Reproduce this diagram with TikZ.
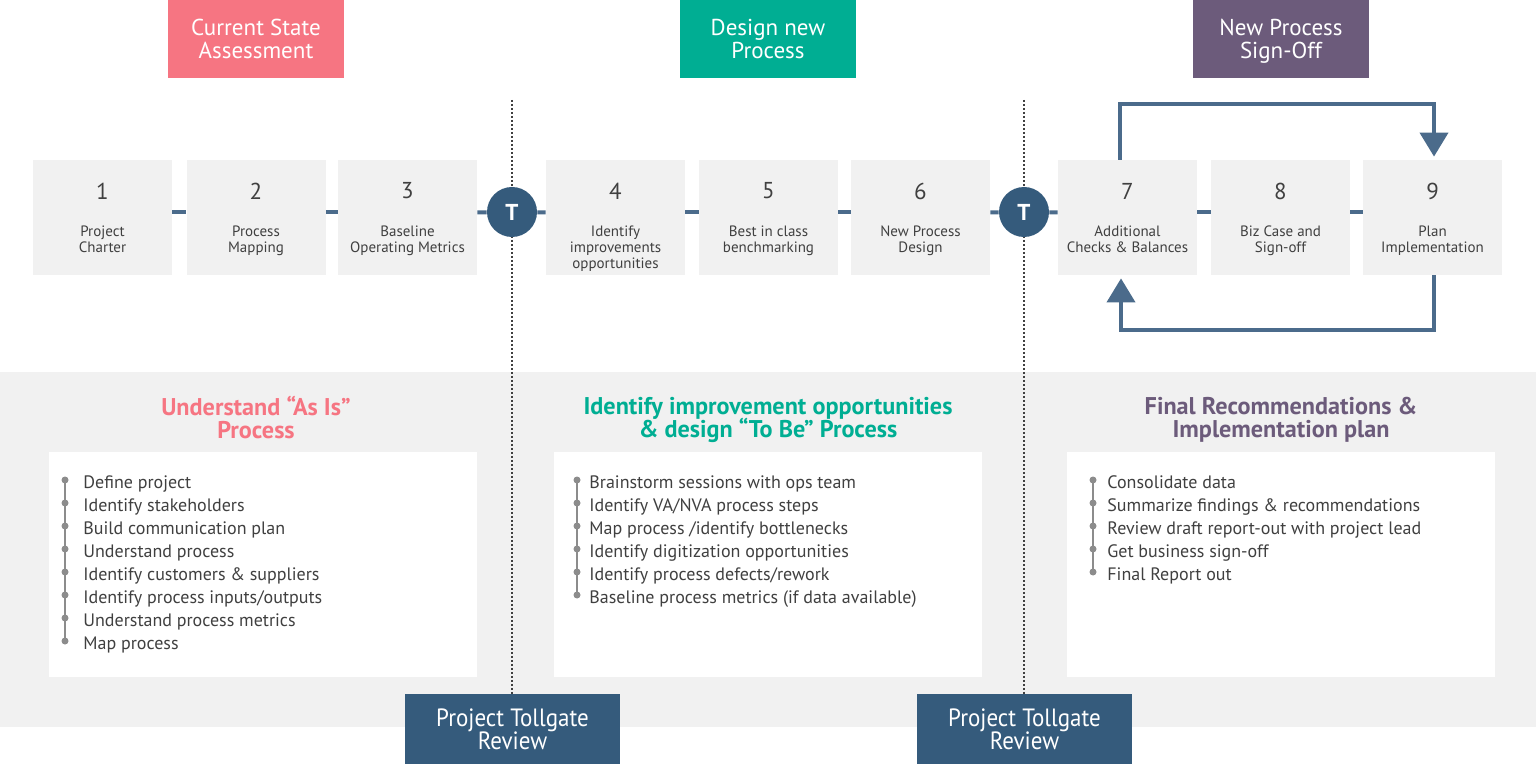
\documentclass[tikz,border=0pt]{standalone}
\usepackage{fontspec}
\setmainfont{PT Sans}
\newfontfamily\narrowfont[FakeStretch=0.92]{PT Sans}
\usetikzlibrary{positioning,arrows.meta}

\definecolor{pinkhead}{HTML}{F67582}
\definecolor{tealhead}{HTML}{00AE93}
\definecolor{purplehead}{HTML}{6C5B7B}
\definecolor{navy}{HTML}{355B7C}
\definecolor{linkblue}{HTML}{4B6B8B}
\definecolor{boxgray}{HTML}{F1F1F1}
\definecolor{dotgray}{HTML}{8C8C8C}
\definecolor{textgray}{HTML}{404040}
\newcommand\tightlines{\lineskiplimit=-5pt\relax}

\begin{document}
\begin{tikzpicture}[x=0.5pt,y=-0.5pt,
    headbox/.style={minimum width=88pt,minimum height=39pt,inner sep=0pt,text=white,
      align=center,text depth=0pt,font=\fontsize{11.5}{11.5}\selectfont\tightlines},
    stepbox/.style={fill=boxgray,minimum width=69.5pt,minimum height=57.5pt,inner sep=0pt},
    num/.style={inner sep=0pt,text=textgray,font=\fontsize{11.5}{13}\selectfont},
    lbl/.style={inner sep=0pt,text=textgray,align=center,font=\fontsize{7.5}{8}\selectfont},
    gatedot/.style={circle,fill=navy,minimum size=25pt,inner sep=0pt,text=white,
      font=\bfseries\fontsize{11.5}{12}\selectfont},
    tollbox/.style={fill=navy,minimum width=107.5pt,minimum height=35pt,inner sep=0pt,
      text=white,align=center,font=\narrowfont\fontsize{12.5}{11.5}\selectfont\tightlines},
    panel/.style={fill=white,minimum width=214pt,minimum height=112.5pt,inner sep=0pt},
    title/.style={inner sep=0pt,align=center,text depth=0pt,
      font=\bfseries\fontsize{12.1}{11.5}\selectfont\tightlines},
    item/.style={anchor=base west,inner sep=0pt,text=textgray,font=\fontsize{9}{11.5}\selectfont},
    dot/.style={circle,fill=dotgray,minimum size=3.5pt,inner sep=0pt},
    rail/.style={draw=dotgray,line width=0.8pt},
    link/.style={draw=linkblue,line width=2pt},
    loop/.style={link,-{Triangle[width=14pt,length=12pt]},shorten >=1.5pt},
    gate/.style={draw=black!75,line width=0.7pt,dash pattern=on 1.2pt off 0.8pt}
  ]
  \useasboundingbox (0,0) rectangle (1536,764);

  % grey band behind the three lists
  \fill[boxgray] (0,372) rectangle (1536,727);

  % phase headers
  \node[headbox,fill=pinkhead] (h1) at (256,39) {Current State\\Assessment};
  \node[headbox,fill=tealhead] (h2) at (768,39) {Design new\\Process};
  \node[headbox,fill=purplehead] (h3) at (1281,39) {New Process\\Sign-Off};

  % tollgate reviews and the dotted lines up to them
  \node[tollbox] (tg1) at (512.5,729) {Project Tollgate\\Review};
  \node[tollbox] (tg2) at (1024.5,729) {Project Tollgate\\Review};
  \coordinate (g1) at (512,100);
  \coordinate (g2) at (1024,100);
  \draw[gate] (g1) -- (g1 |- tg1.north);
  \draw[gate] (g2) -- (g2 |- tg2.north);

  % the nine steps
  \foreach \i/\x/\t in {1/102.5/Project\\Charter,
      2/256/Process\\Mapping,
      3/407.5/Baseline\\Operating Metrics,
      4/615.5/Identify\\improvements\\opportunities,
      5/768.5/Best in class\\benchmarking,
      6/920.5/New Process\\Design,
      7/1127.5/Additional\\Checks \& Balances,
      8/1280.5/Biz Case and\\Sign-off,
      9/1432.5/Plan\\Implementation} {
    \node[stepbox] (s\i) at (\x,217.5) {};
    \node[num] (n\i) at (\x,191) {\i};
    \node[lbl,below=13pt of n\i] (l\i) {\t};
  }
  \node[gatedot] (t1) at (512,212) {T};
  \node[gatedot] (t2) at (1024,212) {T};

  % connectors between steps
  \foreach \a/\b in {s1/s2,s2/s3,s4/s5,s5/s6,s7/s8,s8/s9}
    \draw[link] ([yshift=2.5pt]\a.east) -- ([yshift=2.5pt]\b.west);
  \draw[link] ([yshift=2.5pt]s3.east) -- (t1);
  \draw[link] (t1) -- ([yshift=2.5pt]s4.west);
  \draw[link] ([yshift=2.5pt]s6.east) -- (t2);
  \draw[link] (t2) -- ([yshift=2.5pt]s7.west);

  % loop between 7 and 9
  \draw[loop] ([xshift=-3.75pt]s7.north) -- ++(0,-56) -| ([xshift=0.75pt]s9.north);
  \draw[loop] ([xshift=0.75pt]s9.south) -- ++(0,55) -| ([xshift=-3.25pt]s7.south);

  % section titles
  \node[title,text=pinkhead] (ua) at (256,417.5) {Understand “As Is”\\Process};
  \node[title,text=tealhead] (ib) at (768,417.5) {Identify improvement opportunities\\\& design “To Be” Process};
  \node[title,text=purplehead] (fr) at (1281,417.5) {Final Recommendations \&\\Implementation plan};

  % list panels
  \node[panel] (p1) at (263,564.5) {};
  \node[panel] (p2) at (768,564.5) {};
  \node[panel] (p3) at (1281,564.5) {};

  % first list
  \draw[rail] (65,480) -- (65,641);
  \foreach \t [count=\i] in {Define project,Identify stakeholders,Build communication plan,
      Understand process,{Identify customers \& suppliers},{Identify process inputs/outputs},
      Understand process metrics,Map process} {
    \node[dot] (ud\i) at (65,{480+23*(\i-1)}) {};
    \node[item] (ut\i) at (83,{488+23*(\i-1)}) {\t};
  }

  % second list
  \draw[rail] (577,480) -- (577,595);
  \foreach \t [count=\i] in {Brainstorm sessions with ops team,{Identify VA/NVA process steps},
      {Map process /identify bottlenecks},Identify digitization opportunities,
      {Identify process defects/rework},{Baseline process metrics (if data available)}} {
    \node[dot] (id\i) at (577,{480+23*(\i-1)}) {};
    \node[item] (it\i) at (589,{488+23*(\i-1)}) {\t};
  }

  % third list
  \draw[rail] (1093,480) -- (1093,572);
  \foreach \t [count=\i] in {Consolidate data,{Summarize findings \& recommendations},
      Review draft report-out with project lead,Get business sign-off,Final Report out} {
    \node[dot] (fd\i) at (1093,{480+23*(\i-1)}) {};
    \node[item] (ft\i) at (1107,{488+23*(\i-1)}) {\t};
  }
\end{tikzpicture}
\end{document}
